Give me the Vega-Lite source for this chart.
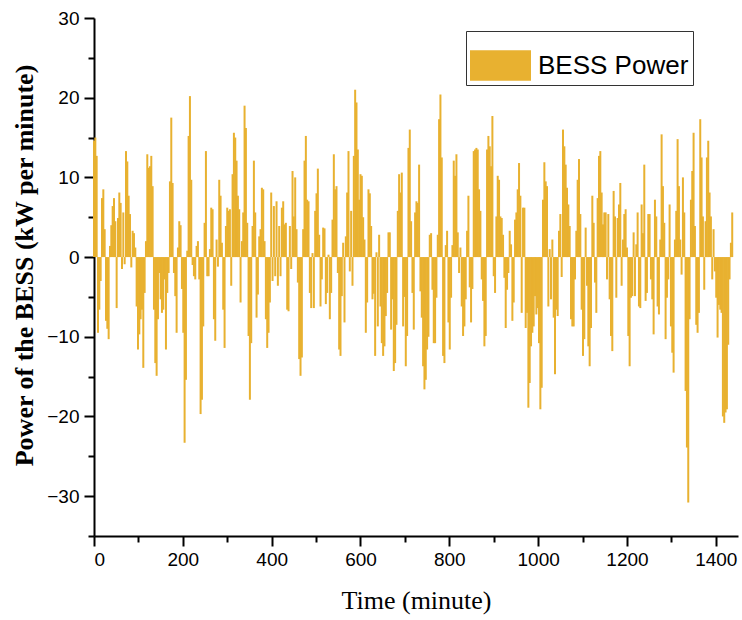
{
"$schema": "https://vega.github.io/schema/vega-lite/v6.json",
"width": 644, "height": 518,
"autosize": {"type": "none"},
"padding": {"left": 94, "top": 18, "right": 4, "bottom": 84},
"background": "white",
"config": {
 "view": {"stroke": null},
 "axis": {"grid": false, "domainColor": "black", "domainWidth": 2, "tickColor": "black", "tickWidth": 2, "labelFont": "Liberation Sans", "labelFontSize": 19, "labelColor": "black", "titleFont": "Liberation Serif", "titleColor": "black"}
},
"datasets": {"bess": [
{"t":0,"p":14.6},{"t":3,"p":15.0},{"t":6,"p":12.7},{"t":9,"p":-9.5},{"t":12,"p":-6.6},{"t":15,"p":-3.0},{"t":18,"p":7.4},{"t":21,"p":8.5},{"t":24,"p":3.5},{"t":27,"p":-8.0},{"t":30,"p":-9.0},{"t":33,"p":-10.3},{"t":36,"p":1.4},{"t":39,"p":4.0},{"t":42,"p":6.4},{"t":45,"p":7.4},{"t":48,"p":4.5},{"t":51,"p":-6.4},{"t":54,"p":4.9},{"t":57,"p":8.1},{"t":60,"p":6.8},{"t":63,"p":-1.5},{"t":66,"p":5.6},{"t":69,"p":-0.9},{"t":72,"p":13.3},{"t":75,"p":12.0},{"t":78,"p":7.7},{"t":81,"p":5.4},{"t":84,"p":-1.3},{"t":87,"p":3.3},{"t":90,"p":3.0},{"t":93,"p":1.2},{"t":96,"p":-6.2},{"t":99,"p":-11.6},{"t":102,"p":-9.7},{"t":105,"p":-7.8},{"t":108,"p":-6.6},{"t":111,"p":-13.9},{"t":114,"p":-4.5},{"t":117,"p":2.0},{"t":120,"p":12.9},{"t":123,"p":11.2},{"t":126,"p":11.4},{"t":129,"p":12.7},{"t":132,"p":8.9},{"t":135,"p":-6.6},{"t":138,"p":-13.3},{"t":141,"p":-14.9},{"t":144,"p":-7.8},{"t":147,"p":-2.0},{"t":150,"p":-5.3},{"t":153,"p":-7.0},{"t":156,"p":-6.6},{"t":159,"p":-2.8},{"t":162,"p":-11.6},{"t":165,"p":-4.5},{"t":168,"p":-2.0},{"t":171,"p":9.5},{"t":174,"p":17.5},{"t":177,"p":9.3},{"t":180,"p":-2.0},{"t":183,"p":-4.9},{"t":186,"p":-9.5},{"t":189,"p":1.2},{"t":192,"p":4.5},{"t":195,"p":4.0},{"t":198,"p":-4.0},{"t":201,"p":-9.5},{"t":204,"p":-23.3},{"t":207,"p":-15.4},{"t":210,"p":0.8},{"t":213,"p":15.2},{"t":216,"p":20.2},{"t":219,"p":9.7},{"t":222,"p":-1.0},{"t":225,"p":-2.4},{"t":228,"p":-2.8},{"t":231,"p":1.4},{"t":234,"p":2.0},{"t":237,"p":-2.8},
{"t":240,"p":-19.7},{"t":243,"p":-17.9},{"t":246,"p":-8.7},{"t":249,"p":4.3},{"t":252,"p":13.3},{"t":255,"p":-2.4},{"t":258,"p":-2.4},{"t":261,"p":1.0},{"t":264,"p":6.2},{"t":267,"p":6.0},{"t":270,"p":-7.8},{"t":273,"p":-10.5},{"t":276,"p":2.2},{"t":279,"p":-1.2},{"t":282,"p":9.7},{"t":285,"p":7.7},{"t":288,"p":1.8},{"t":291,"p":-6.6},{"t":294,"p":-11.4},{"t":297,"p":3.9},{"t":300,"p":6.2},{"t":303,"p":5.8},{"t":306,"p":6.0},{"t":309,"p":-3.6},{"t":312,"p":10.4},{"t":315,"p":15.6},{"t":318,"p":15.0},{"t":321,"p":12.1},{"t":324,"p":7.7},{"t":327,"p":6.0},{"t":330,"p":-5.7},{"t":333,"p":2.0},{"t":336,"p":5.6},{"t":339,"p":19.0},{"t":342,"p":16.2},{"t":345,"p":4.3},{"t":348,"p":-9.9},{"t":351,"p":-17.9},{"t":354,"p":-10.8},{"t":357,"p":3.9},{"t":360,"p":12.1},{"t":363,"p":5.6},{"t":366,"p":-7.6},{"t":369,"p":-4.7},{"t":372,"p":2.6},{"t":375,"p":3.5},{"t":378,"p":8.7},{"t":381,"p":8.5},{"t":384,"p":2.0},{"t":387,"p":-7.8},{"t":390,"p":-11.4},{"t":393,"p":-9.5},{"t":396,"p":-5.7},{"t":399,"p":8.1},{"t":402,"p":-3.0},{"t":405,"p":6.4},{"t":408,"p":-2.4},{"t":411,"p":7.0},{"t":414,"p":-3.6},{"t":417,"p":3.9},{"t":420,"p":-2.4},{"t":423,"p":6.2},{"t":426,"p":7.0},{"t":429,"p":4.1},{"t":432,"p":4.3},{"t":435,"p":-6.6},{"t":438,"p":-6.8},{"t":441,"p":3.9},{"t":444,"p":-1.5},{"t":447,"p":10.8},{"t":450,"p":5.1},{"t":453,"p":10.0},{"t":456,"p":3.5},{"t":459,"p":-3.2},{"t":462,"p":-12.8},{"t":465,"p":-14.9},{"t":468,"p":-12.6},{"t":471,"p":3.5},{"t":474,"p":12.1},{"t":477,"p":15.2},{"t":480,"p":7.2},
{"t":483,"p":7.0},{"t":486,"p":-4.5},{"t":489,"p":-6.4},{"t":492,"p":0.5},{"t":495,"p":-6.4},{"t":498,"p":5.8},{"t":501,"p":8.0},{"t":504,"p":11.1},{"t":507,"p":2.8},{"t":510,"p":-6.2},{"t":513,"p":-2.8},{"t":516,"p":3.7},{"t":519,"p":3.6},{"t":522,"p":-5.9},{"t":525,"p":-4.5},{"t":528,"p":0.3},{"t":531,"p":-7.8},{"t":534,"p":-4.5},{"t":537,"p":4.7},{"t":540,"p":12.9},{"t":543,"p":8.5},{"t":546,"p":8.9},{"t":549,"p":-2.0},{"t":552,"p":-11.6},{"t":555,"p":-12.4},{"t":558,"p":-4.9},{"t":561,"p":1.8},{"t":564,"p":-8.2},{"t":567,"p":2.6},{"t":570,"p":8.1},{"t":573,"p":13.3},{"t":576,"p":-1.8},{"t":579,"p":5.8},{"t":582,"p":-3.6},{"t":585,"p":12.7},{"t":588,"p":21.0},{"t":591,"p":19.4},{"t":594,"p":13.5},{"t":597,"p":7.2},{"t":600,"p":10.4},{"t":603,"p":10.2},{"t":606,"p":5.0},{"t":609,"p":2.2},{"t":612,"p":-9.5},{"t":615,"p":-5.7},{"t":618,"p":8.5},{"t":621,"p":8.0},{"t":624,"p":3.9},{"t":627,"p":-5.3},{"t":630,"p":-4.6},{"t":633,"p":-12.4},{"t":636,"p":0.6},{"t":639,"p":-8.7},{"t":642,"p":2.8},{"t":645,"p":-6.2},{"t":648,"p":-10.8},{"t":651,"p":-12.4},{"t":654,"p":-11.2},{"t":657,"p":-7.4},{"t":660,"p":-4.5},{"t":663,"p":3.1},{"t":666,"p":3.1},{"t":669,"p":-9.1},{"t":672,"p":-5.3},{"t":675,"p":-14.3},{"t":678,"p":-13.3},{"t":681,"p":-8.5},{"t":684,"p":5.8},{"t":687,"p":10.4},{"t":690,"p":8.1},{"t":693,"p":10.6},{"t":696,"p":-8.7},{"t":699,"p":-5.0},{"t":702,"p":-13.7},{"t":705,"p":-9.9},{"t":708,"p":13.7},{"t":711,"p":16.0},{"t":714,"p":4.5},{"t":717,"p":-4.5},{"t":720,"p":-9.1},{"t":723,"p":5.6},
{"t":726,"p":7.0},{"t":729,"p":6.8},{"t":732,"p":11.6},{"t":735,"p":-4.3},{"t":738,"p":-7.6},{"t":741,"p":-13.7},{"t":744,"p":-16.6},{"t":747,"p":-15.4},{"t":750,"p":-11.6},{"t":753,"p":-10.0},{"t":756,"p":2.8},{"t":759,"p":3.0},{"t":762,"p":-4.1},{"t":765,"p":-10.8},{"t":768,"p":-10.8},{"t":771,"p":-5.1},{"t":774,"p":2.8},{"t":777,"p":17.3},{"t":780,"p":20.4},{"t":783,"p":12.5},{"t":786,"p":-12.4},{"t":789,"p":-13.3},{"t":792,"p":1.5},{"t":795,"p":3.3},{"t":798,"p":-8.2},{"t":801,"p":-11.6},{"t":804,"p":-5.1},{"t":807,"p":1.5},{"t":810,"p":12.1},{"t":813,"p":10.2},{"t":816,"p":12.9},{"t":819,"p":3.1},{"t":822,"p":-2.0},{"t":825,"p":1.2},{"t":828,"p":-6.2},{"t":831,"p":-9.9},{"t":834,"p":-8.7},{"t":837,"p":-5.3},{"t":840,"p":3.3},{"t":843,"p":7.7},{"t":846,"p":-3.8},{"t":849,"p":-8.2},{"t":852,"p":-4.0},{"t":855,"p":13.3},{"t":858,"p":13.5},{"t":861,"p":13.7},{"t":864,"p":13.5},{"t":867,"p":8.5},{"t":870,"p":5.8},{"t":873,"p":-2.8},{"t":876,"p":-5.5},{"t":879,"p":-11.2},{"t":882,"p":-9.9},{"t":885,"p":13.5},{"t":888,"p":15.2},{"t":891,"p":13.9},{"t":894,"p":11.4},{"t":897,"p":17.7},{"t":900,"p":-2.4},{"t":903,"p":-4.5},{"t":906,"p":5.1},{"t":909,"p":10.2},{"t":912,"p":9.7},{"t":915,"p":5.1},{"t":918,"p":4.9},{"t":921,"p":2.8},{"t":924,"p":-2.6},{"t":927,"p":-8.9},{"t":930,"p":-4.1},{"t":933,"p":-2.0},{"t":936,"p":3.3},{"t":939,"p":1.6},{"t":942,"p":-8.0},{"t":945,"p":-5.7},{"t":948,"p":4.7},{"t":951,"p":5.6},{"t":954,"p":8.5},{"t":957,"p":11.8},{"t":960,"p":7.7},{"t":963,"p":-7.0},{"t":966,"p":6.2},
{"t":969,"p":6.2},{"t":972,"p":-8.9},{"t":975,"p":-7.0},{"t":978,"p":-18.9},{"t":981,"p":-15.8},{"t":984,"p":-11.2},{"t":987,"p":-9.5},{"t":990,"p":-8.7},{"t":993,"p":-4.9},{"t":996,"p":-7.2},{"t":999,"p":-6.4},{"t":1002,"p":-10.8},{"t":1005,"p":-19.1},{"t":1008,"p":-16.4},{"t":1011,"p":7.2},{"t":1014,"p":11.9},{"t":1017,"p":9.5},{"t":1020,"p":8.9},{"t":1023,"p":-6.2},{"t":1026,"p":1.0},{"t":1029,"p":-5.3},{"t":1032,"p":2.2},{"t":1035,"p":-7.6},{"t":1038,"p":-14.7},{"t":1041,"p":-6.6},{"t":1044,"p":-7.4},{"t":1047,"p":3.3},{"t":1050,"p":5.4},{"t":1053,"p":-2.5},{"t":1056,"p":16.0},{"t":1059,"p":13.9},{"t":1062,"p":11.6},{"t":1065,"p":8.7},{"t":1068,"p":6.6},{"t":1071,"p":3.9},{"t":1074,"p":-7.8},{"t":1077,"p":-8.7},{"t":1080,"p":-8.7},{"t":1083,"p":-2.8},{"t":1086,"p":3.3},{"t":1089,"p":9.7},{"t":1092,"p":12.3},{"t":1095,"p":5.4},{"t":1098,"p":-6.6},{"t":1101,"p":-12.4},{"t":1104,"p":-10.3},{"t":1107,"p":3.7},{"t":1110,"p":-3.6},{"t":1113,"p":-11.2},{"t":1116,"p":-13.7},{"t":1119,"p":-8.9},{"t":1122,"p":7.7},{"t":1125,"p":4.3},{"t":1128,"p":-3.2},{"t":1131,"p":-7.0},{"t":1134,"p":7.4},{"t":1137,"p":12.7},{"t":1140,"p":13.3},{"t":1143,"p":8.1},{"t":1146,"p":4.1},{"t":1149,"p":5.6},{"t":1152,"p":5.6},{"t":1155,"p":-2.8},{"t":1158,"p":5.4},{"t":1161,"p":-5.3},{"t":1164,"p":-9.9},{"t":1167,"p":-11.8},{"t":1170,"p":8.3},{"t":1173,"p":5.1},{"t":1176,"p":-5.1},{"t":1179,"p":4.9},{"t":1182,"p":6.6},{"t":1185,"p":9.3},{"t":1188,"p":-3.6},{"t":1191,"p":2.2},{"t":1194,"p":5.4},{"t":1197,"p":6.0},{"t":1200,"p":1.2},{"t":1203,"p":-9.9},{"t":1206,"p":-13.7},{"t":1209,"p":-5.1},
{"t":1212,"p":-4.9},{"t":1215,"p":3.1},{"t":1218,"p":-4.9},{"t":1221,"p":1.6},{"t":1224,"p":5.6},{"t":1227,"p":-6.2},{"t":1230,"p":-6.4},{"t":1233,"p":6.6},{"t":1236,"p":3.0},{"t":1239,"p":11.6},{"t":1242,"p":-5.5},{"t":1245,"p":-4.5},{"t":1248,"p":5.4},{"t":1251,"p":5.4},{"t":1254,"p":-2.8},{"t":1257,"p":-5.3},{"t":1260,"p":-9.7},{"t":1263,"p":7.2},{"t":1266,"p":5.1},{"t":1269,"p":-6.2},{"t":1272,"p":-7.2},{"t":1275,"p":2.2},{"t":1278,"p":15.4},{"t":1281,"p":8.9},{"t":1284,"p":4.3},{"t":1287,"p":-10.3},{"t":1290,"p":-5.1},{"t":1293,"p":-2.8},{"t":1296,"p":6.6},{"t":1299,"p":-8.7},{"t":1302,"p":-12.0},{"t":1305,"p":-14.5},{"t":1308,"p":2.2},{"t":1311,"p":5.8},{"t":1314,"p":14.8},{"t":1317,"p":8.9},{"t":1320,"p":2.2},{"t":1323,"p":-2.2},{"t":1326,"p":10.0},{"t":1329,"p":5.6},{"t":1332,"p":-16.8},{"t":1335,"p":-23.9},{"t":1338,"p":-30.8},{"t":1341,"p":-7.8},{"t":1344,"p":7.2},{"t":1347,"p":10.8},{"t":1350,"p":15.6},{"t":1353,"p":3.9},{"t":1356,"p":-8.5},{"t":1359,"p":-9.5},{"t":1362,"p":-7.0},{"t":1365,"p":17.3},{"t":1368,"p":12.5},{"t":1371,"p":5.1},{"t":1374,"p":-4.1},{"t":1377,"p":4.5},{"t":1380,"p":12.5},{"t":1383,"p":14.6},{"t":1386,"p":8.1},{"t":1389,"p":5.1},{"t":1392,"p":-2.8},{"t":1395,"p":3.5},{"t":1398,"p":-1.8},{"t":1401,"p":-5.1},{"t":1404,"p":-10.1},{"t":1407,"p":-6.0},{"t":1410,"p":-6.6},{"t":1413,"p":-7.0},{"t":1416,"p":-20.0},{"t":1419,"p":-20.8},{"t":1422,"p":-19.5},{"t":1425,"p":-19.1},{"t":1428,"p":-11.0},{"t":1431,"p":-2.8},{"t":1434,"p":1.8},{"t":1437,"p":5.6}
]},
"layer": [
 {
  "data": {"name": "bess"},
  "mark": {"type": "bar", "width": 2.0},
  "encoding": {
   "x": {"field": "t", "type": "quantitative", "scale": {"domain": [0, 1450], "nice": false, "zero": false, "padding": 0},
         "axis": {"orient": "bottom", "values": [0,200,400,600,800,1000,1200,1400], "format": "d", "tickSize": 10, "labelPadding": 4, "title": "Time (minute)", "titleFontSize": 26, "titleFontWeight": "normal", "titlePadding": 18}},
   "y": {"field": "p", "type": "quantitative", "scale": {"domain": [-35, 30], "nice": false},
         "axis": {"orient": "left", "values": [-30,-20,-10,0,10,20,30], "tickSize": 10, "labelPadding": 5, "title": "Power of the BESS (kW per minute)", "titleFontSize": 26, "titleFontWeight": "bold", "titlePadding": 9, "titleY": 247}},
   "color": {"datum": "BESS Power", "type": "nominal", "scale": {"range": ["#E8B130"]},
     "legend": {"title": null, "orient": "none", "legendX": 372, "legendY": 13, "strokeColor": "#333333", "fillColor": "white", "padding": 4, "symbolType": "M-1,-0.5H1V0.5H-1Z", "symbolSize": 3721, "symbolStrokeWidth": 0, "symbolOpacity": 1, "labelFont": "Liberation Sans", "labelFontSize": 26, "labelOffset": 7, "labelColor": "black"}}
  }
 },
 {
  "mark": {"type": "rule", "color": "black", "strokeWidth": 2.5},
  "encoding": {"y": {"datum": 0, "type": "quantitative", "axis": null}}
 },
 {
  "data": {"values": [{"a": 0}]},
  "mark": {"type": "point", "opacity": 0},
  "encoding": {
   "x": {"datum": 100, "type": "quantitative", "axis": {"orient": "bottom", "values": [100,300,500,700,900,1100,1300], "tickSize": 6, "labels": false, "domain": false, "title": null}},
   "y": {"datum": 0, "type": "quantitative", "axis": {"orient": "left", "values": [-35,-25,-15,-5,5,15,25], "tickSize": 6, "labels": false, "domain": false, "title": null}}
  }
 }
],
"resolve": {"axis": {"x": "independent", "y": "independent"}}
}
